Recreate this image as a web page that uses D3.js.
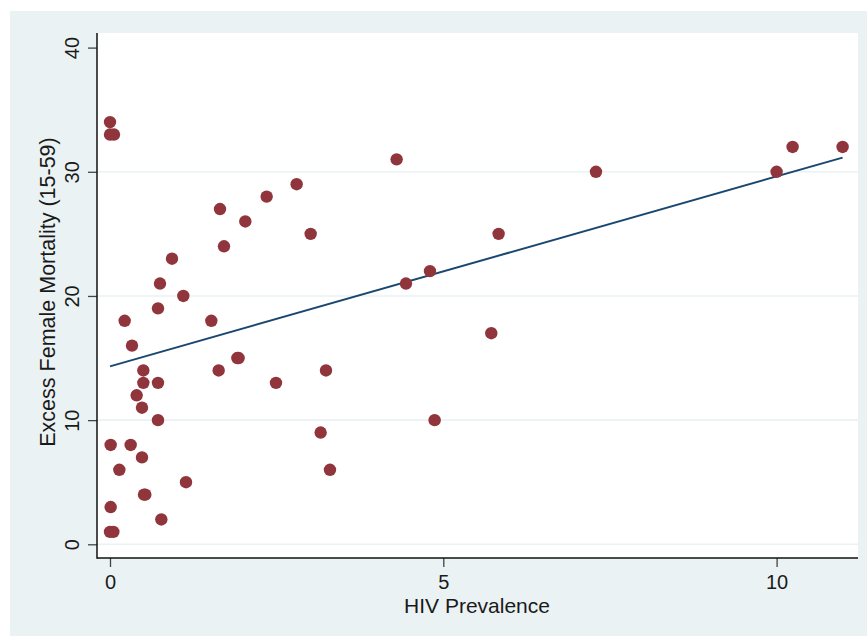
<!DOCTYPE html>
<html>
<head>
<meta charset="utf-8">
<script src="https://cdn.jsdelivr.net/npm/d3@7"></script>
<style>
  html, body { margin: 0; padding: 0; background: #ffffff; }
  svg { display: block; }
  text { font-family: "Liberation Sans", Arial, Helvetica, sans-serif; fill: #1a1a1a; }
</style>
</head>
<body>
<svg id="chart" width="867" height="636"></svg>
<script>
// ---- data ----
const hivPrevalence = [0.00, 0.00, 0.06, 0.01, 0.01, 0.00, 0.05, 0.14, 0.22, 0.33,
                       0.31, 0.40, 0.50, 0.50, 0.48, 0.48, 0.51, 0.53, 0.72, 0.72,
                       0.72, 0.75, 0.77, 0.93, 1.10, 1.14, 1.52, 1.65, 1.63, 1.71,
                       1.91, 1.93, 2.03, 2.35, 2.49, 2.80, 3.01, 3.16, 3.24, 3.30,
                       4.30, 4.44, 4.80, 4.87, 5.72, 5.83, 7.29, 10.00, 10.24, 10.99];
const excessMortality = [34, 33, 33, 8, 3, 1, 1, 6, 18, 16,
                         8, 12, 14, 13, 11, 7, 4, 4, 13, 10,
                         19, 21, 2, 23, 20, 5, 18, 27, 14, 24,
                         15, 15, 26, 28, 13, 29, 25, 9, 14, 6,
                         31, 21, 22, 10, 17, 25, 30, 30, 32, 32];
const fitX = [0, 10.99];
const fitY = [14.33, 31.14];
const xTicks = [0, 5, 10];
const yTicks = [0, 10, 20, 30, 40];
const gridValues = [0, 10, 20, 30];
const xTitle = "HIV Prevalence";
const yTitle = "Excess Female Mortality (15-59)";

// ---- layout ----
const plot = { left: 97, top: 33, right: 858, bottom: 558 };
const svg = d3.select("#chart");

const x = d3.scaleLinear().domain([0, 10]).range([110, 776.6]);
const y = d3.scaleLinear().domain([0, 40]).range([544.3, 47.6]);

// outer graph region
svg.append("rect").attr("x", 10).attr("y", 11).attr("width", 857).attr("height", 625)
  .attr("fill", "#eaf2f3");
// plot region
svg.append("rect").attr("x", plot.left).attr("y", plot.top)
  .attr("width", plot.right - plot.left).attr("height", plot.bottom - plot.top)
  .attr("fill", "#ffffff");

// gridlines
svg.append("g").selectAll("line").data(gridValues).join("line")
  .attr("x1", plot.left).attr("x2", plot.right)
  .attr("y1", d => y(d)).attr("y2", d => y(d))
  .attr("stroke", "#eaf2f3").attr("stroke-width", 1.6);

// fit line
const pts = fitX.map((v, i) => [v, fitY[i]]);
svg.append("path").datum(pts)
  .attr("d", d3.line().x(d => x(d[0])).y(d => y(d[1])))
  .attr("fill", "none").attr("stroke", "#1a476f").attr("stroke-width", 2);

// scatter points
const data = hivPrevalence.map((v, i) => ({ x: v, y: excessMortality[i] }));
svg.append("g").selectAll("circle").data(data).join("circle")
  .attr("cx", d => x(d.x)).attr("cy", d => y(d.y)).attr("r", 6.2)
  .attr("fill", "#90353b");

// axes
const yAxis = svg.append("g").attr("transform", `translate(${plot.left},0)`)
  .call(d3.axisLeft(y).tickValues(yTicks).tickSize(9).tickFormat(d3.format("d")));
yAxis.select(".domain").remove();
yAxis.selectAll(".tick line").attr("stroke", "#444").attr("stroke-width", 1.3);
yAxis.selectAll(".tick text")
  .attr("transform", "rotate(-90)")
  .attr("x", 0).attr("y", -25).attr("dy", "0.35em")
  .attr("text-anchor", "middle")
  .style("font-size", "20px").style("font-family", "Liberation Sans, Arial, sans-serif")
  .attr("fill", "#1a1a1a");

const xAxis = svg.append("g").attr("transform", `translate(0,${plot.bottom})`)
  .call(d3.axisBottom(x).tickValues(xTicks).tickSize(9).tickFormat(d3.format("d")));
xAxis.select(".domain").remove();
xAxis.selectAll(".tick line").attr("stroke", "#444").attr("stroke-width", 1.3);
xAxis.selectAll(".tick text")
  .attr("y", 31).attr("dy", 0)
  .attr("text-anchor", "middle")
  .style("font-size", "20px").style("font-family", "Liberation Sans, Arial, sans-serif")
  .attr("fill", "#1a1a1a");

// axis lines
svg.append("line").attr("x1", plot.left).attr("x2", plot.left)
  .attr("y1", plot.top).attr("y2", plot.bottom + 0.75)
  .attr("stroke", "#111").attr("stroke-width", 1.5);
svg.append("line").attr("x1", plot.left).attr("x2", plot.right)
  .attr("y1", plot.bottom).attr("y2", plot.bottom)
  .attr("stroke", "#111").attr("stroke-width", 1.5);

// titles
svg.append("text").attr("x", 477).attr("y", 612.5)
  .attr("text-anchor", "middle").style("font-size", "21px").text(xTitle);
svg.append("text").attr("transform", "translate(54.5,292) rotate(-90)")
  .attr("text-anchor", "middle").style("font-size", "21.5px").text(yTitle);
</script>
</body>
</html>
